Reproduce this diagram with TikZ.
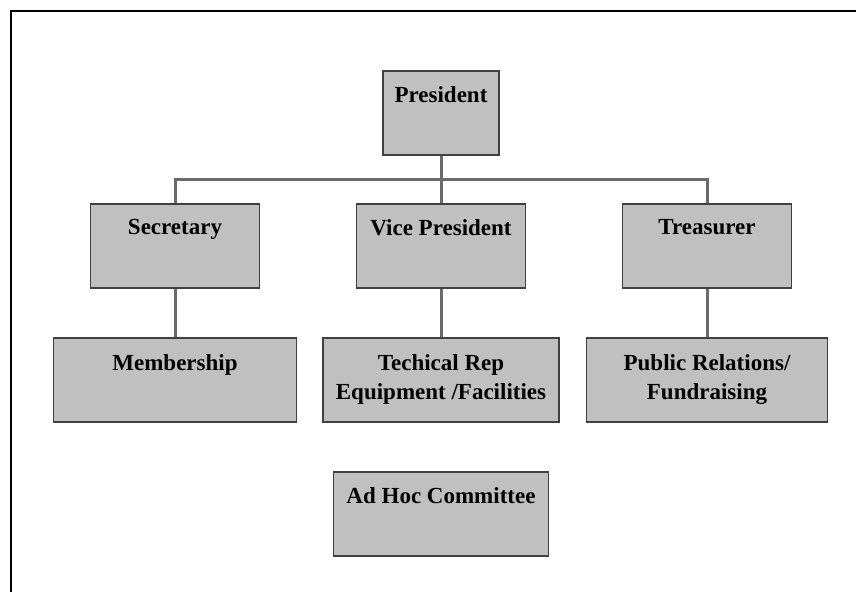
\documentclass[tikz,border=0pt]{standalone}
\usepackage{fontspec}
\setmainfont{Liberation Serif}
\usetikzlibrary{positioning}
\definecolor{boxfill}{HTML}{C0C0C0}
\definecolor{boxline}{HTML}{404040}
\definecolor{linegray}{HTML}{6A6A6A}

\begin{document}
\begin{tikzpicture}[x=1pt, y=-1pt,
    office/.style={draw=boxline, fill=boxfill, line width=1.6pt, inner sep=0pt, minimum height=84pt},
    title/.style={inner sep=0pt, align=center, font=\fontsize{23}{29}\selectfont\bfseries},
    wire/.style={draw=linegray, line width=3pt}]
\useasboundingbox (0,0) rectangle (856,592);
\draw[line width=2pt] (11,592) -- (11,11) -- (856,11);

% the offices
\node[office, minimum width=116pt] (pres) at (441,113) {};
\node[office, minimum width=169pt] (sec) at (175,246) {};
\node[office, minimum width=169pt] (vp) at (441,246) {};
\node[office, minimum width=169pt] (tre) at (707,246) {};
\node[office, minimum width=243pt] (mem) at (175,380) {};
\node[office, minimum width=236pt] (tech) at (441,380) {};
\node[office, minimum width=241pt] (pr) at (707,380) {};
\node[office, minimum width=215pt] (adhoc) at (441,514) {};

\node[title, below=16pt of pres.north] (pres-t) {President};
\node[title, below=16pt of sec.north] (sec-t) {Secretary};
\node[title, below=16pt of vp.north] (vp-t) {Vice President};
\node[title, below=16pt of tre.north] (tre-t) {Treasurer};
\node[title, below=17pt of mem.north] (mem-t) {Membership};
\node[title, below=17pt of tech.north] (tech-t) {Techical Rep\\Equipment /Facilities};
\node[title, below=17pt of pr.north] (pr-t) {Public Relations/\\Fundraising};
\node[title, below=16pt of adhoc.north] (adhoc-t) {Ad Hoc Committee};

% lines
\coordinate (bus) at (441,179);
\draw[wire] (pres) -- (bus);
\draw[wire] (sec) |- (bus) -| (tre);
\draw[wire] (vp) -- (bus);
\draw[wire] (sec) -- (mem);
\draw[wire] (vp) -- (tech);
\draw[wire] (tre) -- (pr);
\end{tikzpicture}
\end{document}
